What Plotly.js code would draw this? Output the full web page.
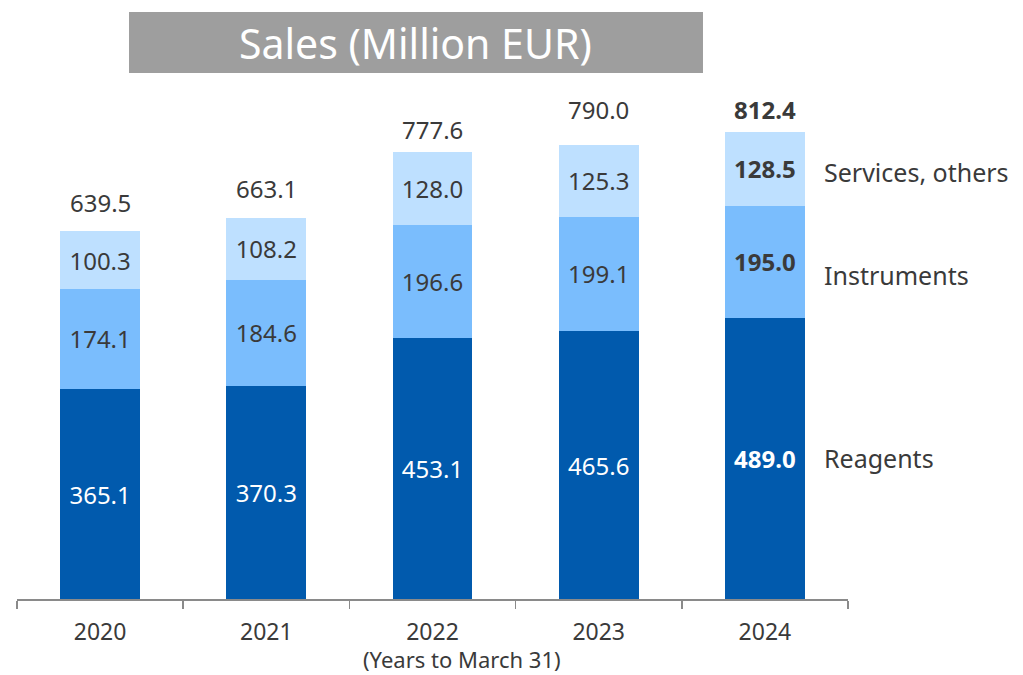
<!DOCTYPE html>
<html>
<head>
<meta charset="utf-8">
<script src="https://cdn.plot.ly/plotly-3.0.1.min.js"></script>
<style>html,body{margin:0;padding:0;background:#fff;}#chart{width:1023px;height:675px;}</style>
</head>
<body>
<div id="chart"></div>
<script>
const years = ['2020', '2021', '2022', '2023', '2024'];
const reagents = [365.1, 370.3, 453.1, 465.6, 489.0];
const instruments = [174.1, 184.6, 196.6, 199.1, 195.0];
const services = [100.3, 108.2, 128.0, 125.3, 128.5];
const totals = [639.5, 663.1, 777.6, 790.0, 812.4];
const seriesNames = ['Reagents', 'Instruments', 'Services, others'];
const titleText = 'Sales (Million EUR)';
const xTitle = '(Years to March 31)';

const FONT = 'Noto Sans, sans-serif';
const DARK = '#3a3a3a';
const lastIdx = years.length - 1;
const fmt = (v, i) => i === lastIdx ? '<b>' + v.toFixed(1) + '</b>' : v.toFixed(1);

function barTrace(vals, name, color, textColor) {
  return {
    type: 'bar', x: years, y: vals, name: name,
    marker: {color: color, line: {width: 0}},
    text: vals.map(fmt), textposition: 'inside', insidetextanchor: 'middle',
    textangle: 0, constraintext: 'none',
    textfont: {family: FONT, size: 24, color: textColor},
    hoverinfo: 'none'
  };
}

const data = [
  barTrace(reagents, seriesNames[0], '#015aad', '#ffffff'),
  barTrace(instruments, seriesNames[1], '#7abdfd', DARK),
  barTrace(services, seriesNames[2], '#bee0ff', DARK)
];

// category axis: annotation x uses the category serial number
const totalShift = [10, 11, 4, 17, 4];
const annotations = totals.map((t, i) => ({
  x: i, y: t, xref: 'x', yref: 'y', text: fmt(t, i),
  showarrow: false, yanchor: 'bottom', yshift: totalShift[i],
  font: {family: FONT, size: 24, color: DARK}
}));

const mids = [
  reagents[lastIdx] / 2,
  reagents[lastIdx] + instruments[lastIdx] / 2,
  reagents[lastIdx] + instruments[lastIdx] + services[lastIdx] / 2
];
const shifts = [0, -13, -3];
seriesNames.forEach((n, k) => {
  annotations.push({
    x: 0.969, xref: 'paper', y: mids[k], yref: 'y', text: n,
    showarrow: false, xanchor: 'left', yanchor: 'middle', yshift: shifts[k],
    font: {family: FONT, size: 25, color: DARK}
  });
});

annotations.push({
  x: 0.4801, xref: 'paper', y: 1.0933, yref: 'paper', text: titleText,
  showarrow: false, xanchor: 'center', yanchor: 'middle',
  font: {family: FONT, size: 41, color: '#ffffff'}
});

// x-axis caption under the tick labels
annotations.push({
  x: 0.5355, xref: 'paper', y: -0.1493, yref: 'paper', text: xTitle,
  showarrow: false, xanchor: 'center', yanchor: 'bottom', borderpad: 0,
  font: {family: FONT, size: 22, color: DARK}
});

const layout = {
  width: 1023, height: 675,
  margin: {l: 17, r: 175, t: 90, b: 76},
  paper_bgcolor: '#ffffff', plot_bgcolor: '#ffffff',
  barmode: 'stack', bargap: 0.52,
  showlegend: false,
  font: {family: FONT, color: DARK},
  xaxis: {
    type: 'category', range: [-0.5, years.length - 0.5], autorange: false,
    showgrid: false, zeroline: false,
    showline: true, linecolor: '#8a8a8a', linewidth: 1.5,
    ticks: 'outside', tickson: 'boundaries', ticklen: 8, tickcolor: '#8a8a8a', tickwidth: 1.5,
    tickangle: 0, ticklabelstandoff: 12,
    tickfont: {family: FONT, size: 23, color: DARK},
    fixedrange: true
  },
  yaxis: {
    range: [0, 885], autorange: false, visible: false, showgrid: false, zeroline: false, fixedrange: true
  },
  shapes: [{
    type: 'rect', xref: 'paper', yref: 'paper',
    x0: 0.1348, x1: 0.8255, y0: 1.0334, y1: 1.1532,
    fillcolor: '#9e9e9e', line: {width: 0}, layer: 'below'
  }],
  annotations: annotations
};

Plotly.newPlot('chart', data, layout, {displayModeBar: false, staticPlot: true});
</script>
</body>
</html>
